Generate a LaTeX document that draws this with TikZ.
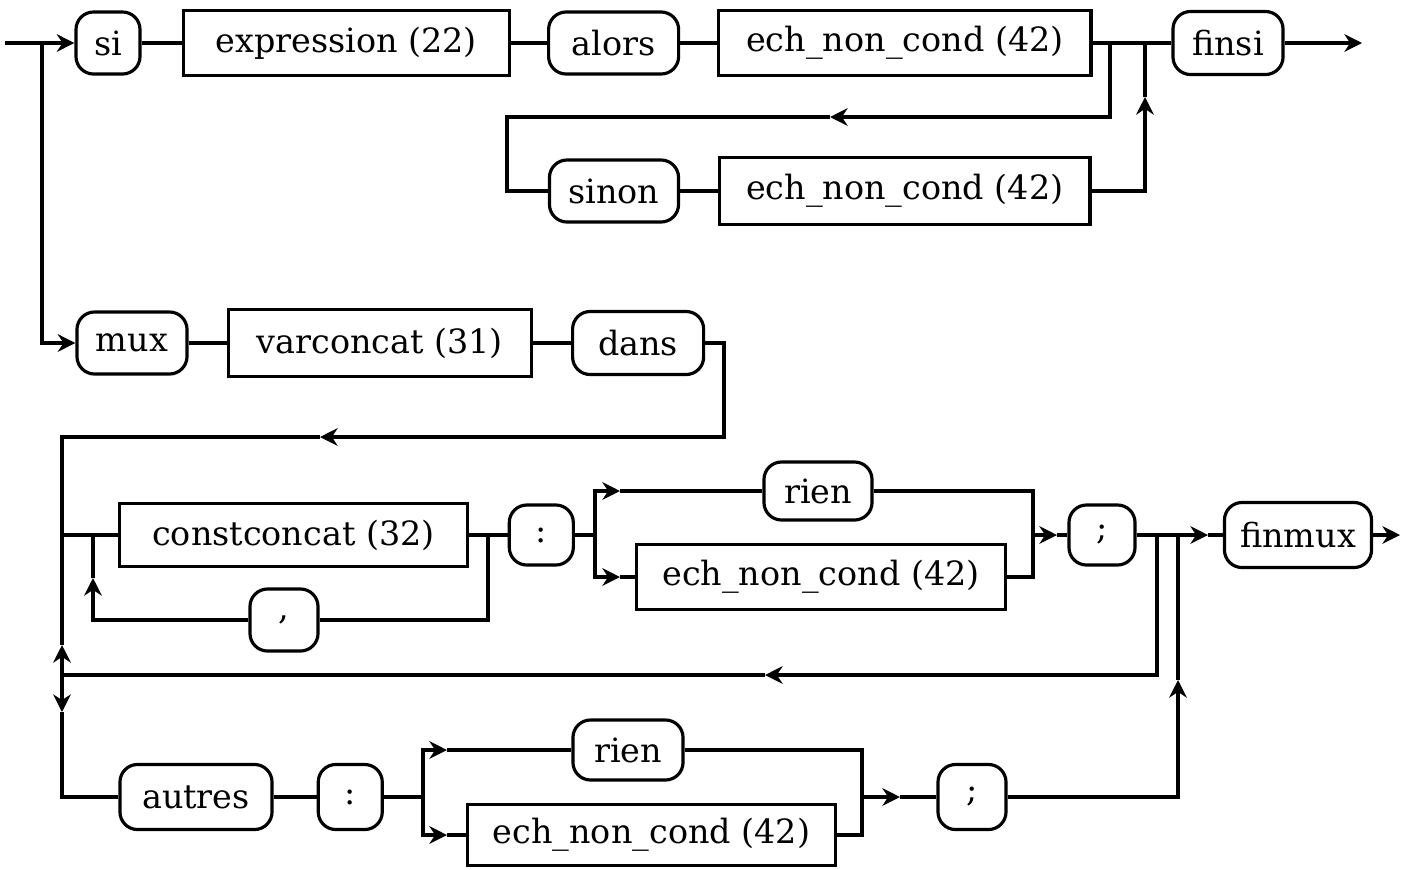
\documentclass[tikz,border=0pt]{standalone}
\usepackage{fontspec}
\setmainfont{DejaVu Serif}
\usetikzlibrary{arrows.meta, positioning}

\begin{document}
\begin{tikzpicture}[x=0.01cm, y=-0.01cm, line width=0.9pt, >={Stealth[length=5pt,width=5pt]},
  term/.style={draw, rounded corners=5pt, inner sep=0pt, minimum height=0.62cm, font=\fontsize{9.5}{11}\selectfont},
  nonterm/.style={draw, inner sep=0pt, minimum height=0.65cm, font=\fontsize{9.5}{11}\selectfont}]
\useasboundingbox (0,0) rectangle (1412,869);

% si ... finsi
\node[term, minimum width=0.64cm] (si) at (108,43) {si};
\node[nonterm, minimum width=3.26cm, right=0.40cm of si] (expr) {expression (22)};
\node[term, minimum width=1.30cm, right=0.36cm of expr] (alors) {alors};
\node[nonterm, minimum width=3.72cm, right=0.37cm of alors] (ech1) {ech\_non\_cond (42)};
\node[term, minimum width=1.29cm] (sinon) at (614,191) {sinon};
\node[nonterm, minimum width=3.70cm, minimum height=0.67cm, right=0.38cm of sinon] (ech2) {ech\_non\_cond (42)};
\node[term, minimum width=1.10cm, minimum height=0.63cm] (finsi) at (1228,43) {finsi};

% mux ... dans
\node[term, minimum width=1.10cm] (mux) at (132,343) {mux};
\node[nonterm, minimum width=3.03cm, minimum height=0.67cm, right=0.38cm of mux] (varc) {varconcat (31)};
\node[term, minimum width=1.31cm, minimum height=0.63cm, right=0.38cm of varc] (dans) {dans};

% liste de cas
\node[nonterm, minimum width=3.47cm, minimum height=0.63cm] (cc) at (293.5,535) {constconcat (32)};
\node[term, minimum width=0.64cm, minimum height=0.60cm, right=0.39cm of cc] (colon1) {:};
\node[term, minimum width=0.68cm] (comma) at (284,620) {,};
\node[term, minimum width=1.08cm, minimum height=0.58cm] (rien1) at (818,491) {rien};
\node[nonterm, minimum width=3.68cm] (ech3) at (821,577) {ech\_non\_cond (42)};
\node[term, minimum width=0.66cm, minimum height=0.60cm] (semi1) at (1102,535) {;};
\node[term, minimum width=1.47cm, minimum height=0.65cm] (finmux) at (1298,535) {finmux};

% autres
\node[term, minimum width=1.52cm, minimum height=0.65cm] (autres) at (196,797) {autres};
\node[term, minimum width=0.64cm, minimum height=0.65cm, right=0.43cm of autres] (colon2) {:};
\node[term, minimum width=1.10cm, minimum height=0.60cm] (rien2) at (628,750) {rien};
\node[nonterm, minimum width=3.67cm, minimum height=0.61cm] (ech4) at (651.5,835) {ech\_non\_cond (42)};
\node[term, minimum width=0.68cm, minimum height=0.65cm] (semi2) at (972,797) {;};

% junctions and arrow points
\coordinate (in) at (5,43);
\coordinate (b0) at (42,43);
\coordinate (j1) at (1110,43);
\coordinate (j2) at (1145,43);
\coordinate (out1) at (1362,43);
\coordinate (a1) at (830,117);
\coordinate (c1) at (507,117);
\coordinate (a2) at (1145,97);
\coordinate (d1) at (724,343);
\coordinate (a3) at (320,437);
\coordinate (c2) at (62,437);
\coordinate (b1) at (62,535);
\coordinate (k1) at (93,535);
\coordinate (k2) at (488,535);
\coordinate (a7) at (93,578);
\coordinate (k3) at (595,535);
\coordinate (a8) at (620,491);
\coordinate (a9) at (620,577);
\coordinate (k4) at (1033,535);
\coordinate (a10) at (1057,535);
\coordinate (k5) at (1157,535);
\coordinate (k6) at (1178,535);
\coordinate (a11) at (1208,535);
\coordinate (out2) at (1400,535);
\coordinate (a12) at (765,675);
\coordinate (c3) at (62,675);
\coordinate (a5) at (62,645);
\coordinate (a6) at (62,712);
\coordinate (k7) at (423,797);
\coordinate (a13) at (447,750);
\coordinate (a14) at (447,835);
\coordinate (k8) at (862,797);
\coordinate (a15) at (900,797);
\coordinate (a16) at (1178,680);

% first rule
\draw[->] (in) -- (si);
\draw (si) -- (expr);
\draw (expr) -- (alors);
\draw (alors) -- (ech1);
\draw (ech1) -- (j1) -- (j2) -- (finsi);
\draw[->] (finsi) -- (out1);
\draw[->] (j1) |- (a1);
\draw (a1) -- (c1) |- (sinon);
\draw (sinon) -- (ech2);
\draw[->] (ech2) -| (a2);
\draw (a2) -- (j2);

% second rule
\draw[->] (b0) |- (mux);
\draw (mux) -- (varc);
\draw (varc) -- (dans);
\draw[->] (dans) -- (d1) |- (a3);
\draw (a3) -- (c2) -- (b1);
\draw (b1) -- (cc);
\draw (cc) -- (colon1);
\draw (k2) |- (comma);
\draw[->] (comma) -| (a7);
\draw (a7) -- (k1);
\draw (colon1) -- (k3);
\draw[->] (k3) |- (a8);
\draw (a8) -- (rien1);
\draw[->] (k3) |- (a9);
\draw (a9) -- (ech3);
\draw (rien1) -| (k4);
\draw (ech3) -| (k4);
\draw[->] (k4) -- (a10);
\draw (a10) -- (semi1);
\draw (semi1) -- (k5) -- (k6);
\draw[->] (k6) -- (a11);
\draw (a11) -- (finmux);
\draw[->] (finmux) -- (out2);
\draw[->] (k5) |- (a12);
\draw (a12) -- (c3);
\draw[->] (c3) -- (a5);
\draw (a5) -- (b1);
\draw[->] (c3) -- (a6);
\draw (a6) |- (autres);
\draw (autres) -- (colon2);
\draw (colon2) -- (k7);
\draw[->] (k7) |- (a13);
\draw (a13) -- (rien2);
\draw[->] (k7) |- (a14);
\draw (a14) -- (ech4);
\draw (rien2) -| (k8);
\draw (ech4) -| (k8);
\draw[->] (k8) -- (a15);
\draw (a15) -- (semi2);
\draw[->] (semi2) -| (a16);
\draw (a16) -- (k6);
\end{tikzpicture}
\end{document}
